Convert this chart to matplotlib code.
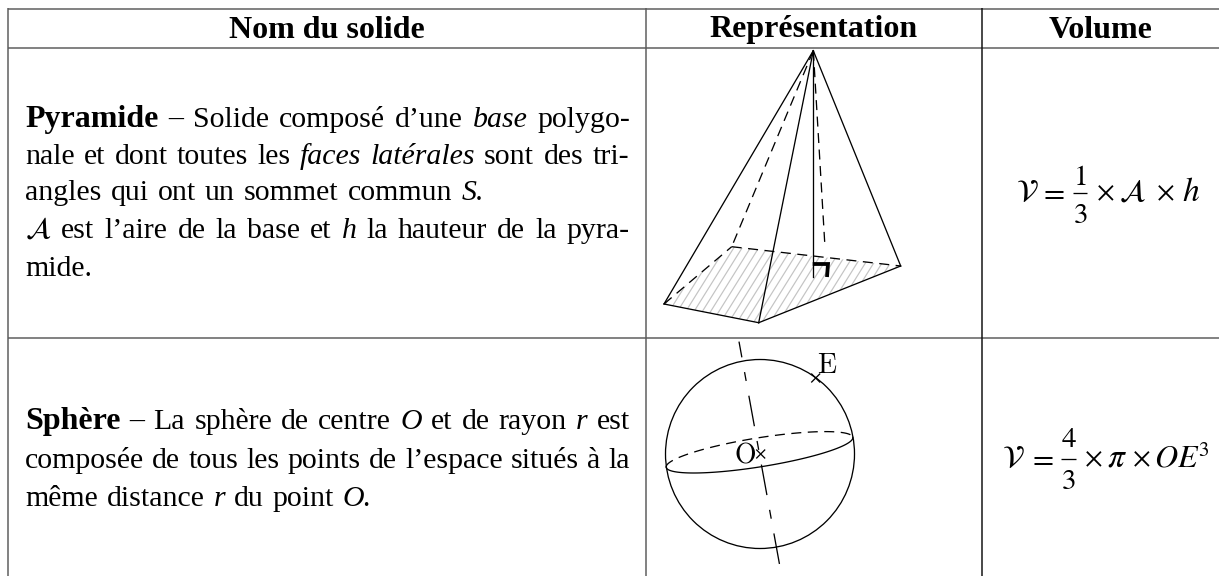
import numpy as np
import matplotlib
matplotlib.use("Agg")
import matplotlib.pyplot as plt
from matplotlib.patches import Polygon, Circle

plt.rcParams['lines.scale_dashes'] = False
plt.rcParams['mathtext.fontset'] = 'stix'
plt.rcParams['font.family'] = ['Liberation Serif', 'DejaVu Serif']

# ---- table content ----
headers = ["Nom du solide", "Représentation", "Volume"]
header_x = [327, 814, 1101]
R, B, I, M = "normal", "bold", "italic", "math"
pyramid_lines = [
    [("Pyramide", B), ("–", R), ("Solide", R), ("composé", R), ("d’une", R), ("base", I), ("polygo-", R)],
    [("nale", R), ("et", R), ("dont", R), ("toutes", R), ("les", R), ("faces", I), ("latérales", I), ("sont", R), ("des", R), ("tri-", R)],
    [("angles", R), ("qui", R), ("ont", R), ("un", R), ("sommet", R), ("commun", R), ("S.", I)],
    [(r"$\mathcal{A}$", M), ("est", R), ("l’aire", R), ("de", R), ("la", R), ("base", R), ("et", R), ("h", I), ("la", R), ("hauteur", R), ("de", R), ("la", R), ("pyra-", R)],
    [("mide.", R)],
]
pyramid_baselines = [127, 163.5, 199.5, 238, 276]
pyramid_ends = [630, 629, 484, 630, 92]
sphere_lines = [
    [("Sphère", B), ("–", R), ("La", R), ("sphère", R), ("de", R), ("centre", R), ("O", I), ("et", R), ("de", R), ("rayon", R), ("r", I), ("est", R)],
    [("composée", R), ("de", R), ("tous", R), ("les", R), ("points", R), ("de", R), ("l’espace", R), ("situés", R), ("à", R), ("la", R)],
    [("même", R), ("distance", R), ("r", I), ("du", R), ("point", R), ("O.", I)],
]
sphere_baselines = [429, 468, 506]
sphere_ends = [630, 630, 372]

# formula pieces: (math text, x centre, baseline, size)
formula_pyramid = [
    (r"$\mathcal{V}$", 1027, 200.7, 22), (r"$=$", 1051.5, 200.7, 22),
    (r"$1$", 1080, 185, 21), (r"$3$", 1080, 223, 21),
    (r"$\times$", 1105, 200.7, 20), (r"$\mathcal{A}$", 1132.5, 200.7, 22),
    (r"$\times$", 1165, 200.7, 20), (r"$h$", 1190.5, 200.7, 24),
]
formula_pyramid_bar = [1073, 1087, 192.7]
formula_sphere = [
    (r"$\mathcal{V}$", 1013.5, 466.7, 22), (r"$=$", 1041, 466.7, 22),
    (r"$4$", 1068.5, 447, 21), (r"$3$", 1068.5, 489, 21),
    (r"$\times$", 1093.5, 466.7, 20), (r"$\pi$", 1116.5, 466.7, 24),
    (r"$\times$", 1141.5, 466.7, 20), (r"$OE$", 1177, 466.7, 23),
    (r"$3$", 1203, 456, 15),
]
formula_sphere_bar = [1061, 1076, 458.7]

# ---- table grid (pixel positions) ----
grid_y = [8.5, 47.5, 338]
grid_x = [8, 646, 981.5]

# ---- pyramid vertices ----
S = (813.3, 50.7)
A = (664, 304)
P = (758.7, 322.7)
C = (900.7, 266)
D = (731.7, 246.7)
H = (825, 247.3)
foot = (813.3, 277.3)
right_angle = [(812.7, 264), (828, 264), (827, 277)]

# ---- sphere ----
sphere_c = (760, 454)
sphere_r = 94.5
eq_c = (759.5, 452.3)
eq_a, eq_b, eq_tilt = 94.5, 14.5, 9.1
axis_top = (739, 341.6)
axis_bottom = (780, 567)
cross_O = (760.7, 454)
cross_E = (815.7, 378)

fig = plt.figure(figsize=(12.19, 5.76), dpi=100)
ax = fig.add_axes([0, 0, 1, 1])
ax.set_xlim(0, 1219)
ax.set_ylim(576, 0)
ax.axis("off")
px = 0.72

# grid
for y in grid_y:
    ax.plot([8, 1219], [y, y], color="#5c5c5c", lw=1.5 * px, solid_capstyle="butt")
for x, c in zip(grid_x, ["#5c5c5c", "#5c5c5c", "#111111"]):
    ax.plot([x, x], [8, 576], color=c, lw=1.5 * px, solid_capstyle="butt")

# headers
for t, x in zip(headers, header_x):
    ax.text(x, 37.5, t, ha="center", va="baseline", fontsize=23, fontweight="bold", color="black")

# justified text
fig.canvas.draw()
rend = fig.canvas.get_renderer()
FS = 21.5


def draw_line(words, base, end, start=25):
    items = []
    for w, st in words:
        if st == B:
            kw = dict(fontweight="bold", fontsize=FS + 1.5)
        elif st == I:
            kw = dict(fontstyle="italic", fontsize=FS)
        else:
            kw = dict(fontsize=FS)
        items.append(ax.text(0, base, w, va="baseline", ha="left", color="black", **kw))
    widths = [t.get_window_extent(rend).width for t in items]
    gap = (end - start - sum(widths)) / max(len(items) - 1, 1)
    x = start
    for t, w in zip(items, widths):
        t.set_x(x)
        x += w + gap


for words, b, e in zip(pyramid_lines, pyramid_baselines, pyramid_ends):
    draw_line(words, b, e)
for words, b, e in zip(sphere_lines, sphere_baselines, sphere_ends):
    draw_line(words, b, e)

# formulas
for parts, bar in ((formula_pyramid, formula_pyramid_bar), (formula_sphere, formula_sphere_bar)):
    for t, x, y, fs in parts:
        ax.text(x, y, t, ha="center", va="baseline", fontsize=fs, color="black")
    ax.plot(bar[:2], [bar[2], bar[2]], color="black", lw=1.3 * px, solid_capstyle="butt")

# pyramid
LW = 1.3 * px
dash = (0, (10 * px, 6.5 * px))
base = Polygon([A, P, C, D], closed=True, fc="none", ec="none")
ax.add_patch(base)
for off in np.arange(560, 1000, 8.3):
    ln, = ax.plot([off, off + 75], [340, 340 - 75 * 1.6], color="#c4c4c4", lw=1.2 * px)
    ln.set_clip_path(base)


def seg(p, q, **kw):
    ax.plot([p[0], q[0]], [p[1], q[1]], color="black", lw=LW, **kw)


for q in (A, P, C):
    seg(S, q)
seg(A, P)
seg(P, C)
seg(S, foot)
for p, q in ((S, D), (S, H), (A, D), (D, C)):
    seg(p, q, linestyle=dash)
ax.plot(*zip(*right_angle), color="black", lw=3.8 * px, solid_joinstyle="miter", solid_capstyle="butt")

# sphere
ax.add_patch(Circle(sphere_c, sphere_r, fc="none", ec="black", lw=LW))
tilt = np.radians(eq_tilt)
u = np.array([np.cos(tilt), -np.sin(tilt)])
v = np.array([np.sin(tilt), np.cos(tilt)])


def eq_arc(t0, t1, **kw):
    t = np.linspace(t0, t1, 120)
    x = eq_c[0] + eq_a * np.cos(t) * u[0] + eq_b * np.sin(t) * v[0]
    y = eq_c[1] + eq_a * np.cos(t) * u[1] + eq_b * np.sin(t) * v[1]
    ax.plot(x, y, color="black", lw=LW, **kw)


eq_arc(0, np.pi)
eq_arc(np.pi, 2 * np.pi, linestyle=dash)
ax.plot([axis_top[0], axis_bottom[0]], [axis_top[1], axis_bottom[1]], color="black", lw=LW,
        linestyle=(15 * px, (31 * px, 15 * px, 9 * px, 15 * px)))
for c in (cross_O, cross_E):
    ax.plot([c[0] - 4, c[0] + 4], [c[1] + 4, c[1] - 4], color="black", lw=LW)
    ax.plot([c[0] - 4, c[0] + 4], [c[1] - 4, c[1] + 4], color="black", lw=LW)
ax.text(745, 456, "O", family="cmr10", fontsize=20, ha="center", va="center", color="black")
ax.text(827, 366, "E", family="cmr10", fontsize=20, ha="center", va="center", color="black")

fig.savefig("out.png", dpi=100)
